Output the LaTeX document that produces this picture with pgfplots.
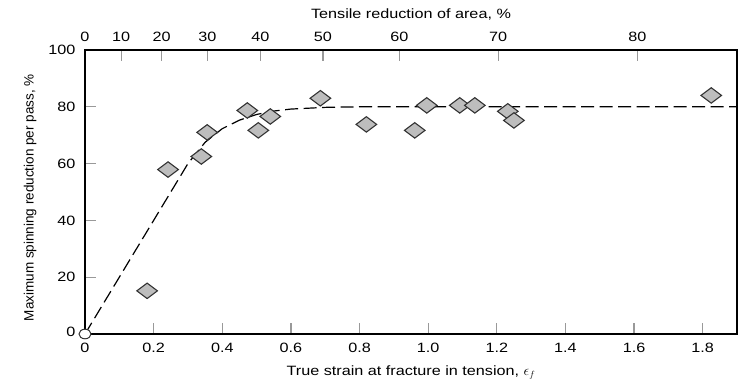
\documentclass[border=0pt]{standalone}
\usepackage{pgfplots}
\pgfplotsset{compat=1.18}
\usepackage{fontspec}
\setmainfont{Liberation Sans}[FakeStretch=1.2]
\newfontfamily\plainfont{Liberation Sans}
\definecolor{mkfill}{HTML}{BDBDBD}
\definecolor{mkdraw}{HTML}{333333}
\definecolor{tickc}{HTML}{999999}
\begin{document}
\begin{tikzpicture}
\useasboundingbox (-85pt,-46pt) rectangle (655pt,334pt);
\begin{axis}[
  at={(0pt,0pt)}, anchor=south west,
  scale only axis, width=652pt, height=284pt,
  xmin=0, xmax=1.9, ymin=0, ymax=100,
  font=\fontsize{13.5}{15}\selectfont,
  /pgf/number format/assume math mode=true,
  axis x line*=top, axis y line=none,
  axis line style={black, line width=1.1pt},
  xtick={0.10536,0.22314,0.35667,0.51083,0.69315,0.91629,1.20397,1.60944},
  xticklabels={10,20,30,40,50,60,70,80},
  extra x ticks={0}, extra x tick labels={0},
  extra x tick style={major tick length=0pt},
  xticklabel style={yshift=5pt},
  tick align=inside,
  major tick length=11pt,
  tick style={tickc, line width=1.3pt},
  xlabel={Tensile reduction of area, \%},
  xlabel style={at={(axis description cs:0.5,1.125)}, anchor=center},
]
\end{axis}
\begin{axis}[
  at={(0pt,0pt)}, anchor=south west,
  scale only axis, width=652pt, height=284pt,
  xmin=0, xmax=1.9, ymin=0, ymax=100,
  clip=false,
  font=\fontsize{13.5}{15}\selectfont,
  /pgf/number format/assume math mode=true,
  axis line style={black, line width=1.1pt},
  xtick={0,0.2,0.4,0.6,0.8,1.0,1.2,1.4,1.6,1.8},
  xticklabels={0,0.2,0.4,0.6,0.8,1.0,1.2,1.4,1.6,1.8},
  ytick={0,20,40,60,80,100},
  yticklabels={\raisebox{5pt}{0},20,40,60,80,100},
  xtick pos=bottom, ytick pos=left,
  xticklabel style={yshift=-6pt},
  yticklabel style={xshift=-6pt},
  tick align=inside,
  major tick length=11pt,
  tick style={tickc, line width=1.3pt},
  xlabel={True strain at fracture in tension, $\epsilon_f$},
  xlabel style={at={(axis description cs:0.5,-0.135)}, anchor=center},
  ylabel={\plainfont\fontsize{13.5}{15}\selectfont Maximum spinning reduction per pass, \%},
  ylabel style={at={(axis description cs:-0.084,0.48)}, anchor=center},
]
\addplot[black, line width=1.2pt, dash pattern=on 13pt off 5.5pt] coordinates {
 (0,0) (0.1,20) (0.2,40) (0.25,50) (0.3,60) (0.35,67.5) (0.4,72.3) (0.45,75.3)
 (0.5,77.3) (0.55,78.5) (0.6,79.2) (0.7,79.8) (0.8,80) (1.9,80)};
\addplot[only marks, mark=diamond*, mark size=10.3pt,
  mark options={rotate=90, fill=mkfill, draw=mkdraw, line width=1.1pt}] coordinates {
 (0.181,15.2) (0.242,57.9) (0.339,62.5) (0.356,71) (0.473,78.7) (0.505,71.7)
 (0.540,76.6) (0.686,83) (0.820,73.8) (0.961,71.7) (0.996,80.5) (1.092,80.5)
 (1.136,80.5) (1.232,78.4) (1.250,75.2) (1.825,84)};
\addplot[only marks, mark=*, mark size=6pt,
  mark options={fill=white, draw=mkdraw, line width=1pt, yscale=0.8}] coordinates {(0,0)};
\end{axis}
\end{tikzpicture}
\end{document}
